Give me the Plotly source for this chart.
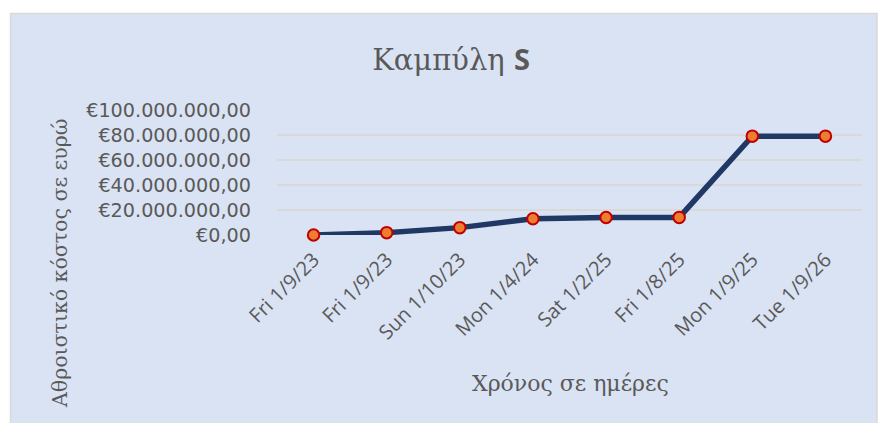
import plotly.graph_objects as go

# Data: cumulative cost per milestone date
dates = ["Fri 1/9/23", "Fri 1/9/23", "Sun 1/10/23", "Mon 1/4/24",
         "Sat 1/2/25", "Fri 1/8/25", "Mon 1/9/25", "Tue 1/9/26"]
cumulative_cost = [0, 1.9e6, 5.9e6, 13.0e6, 14.0e6, 14.1e6, 79.1e6, 79.1e6]
y_ticks = [0, 20e6, 40e6, 60e6, 80e6, 100e6]


def euro(v):
    # Greek-style currency: "." thousands, "," decimals
    s = f"{v:,.2f}".replace(",", "X").replace(".", ",").replace("X", ".")
    return "€" + s


y_ticktext = [euro(v) for v in y_ticks]
positions = list(range(len(dates)))

W, H = 878, 423
L, R, T, B = 277, 16, 110, 188
pw, ph = W - L - R, H - T - B


def px_x(x):
    return (x - L) / pw


def px_y(y):
    return (H - B - y) / ph


GREY = "#595959"
SERIF = "DejaVu Serif"
SANS = "Open Sans"

fig = go.Figure()
fig.add_trace(go.Scatter(
    x=positions, y=cumulative_cost, mode="lines+markers",
    line=dict(color="#203864", width=5.5),
    marker=dict(size=11.5, color="#ED7D31", line=dict(color="#C00000", width=2)),
    cliponaxis=False, showlegend=False, hoverinfo="skip",
))

fig.update_layout(
    width=W, height=H,
    margin=dict(l=L, r=R, t=T, b=B, autoexpand=False),
    paper_bgcolor="white", plot_bgcolor="rgba(0,0,0,0)",
    title=dict(
        text="Καμπύλη <span style='font-family:Open Sans'><b>S</b></span>",
        font=dict(family=SERIF, size=29, color=GREY),
        xref="container", yref="container",
        x=451 / W, y=1 - 60 / H, xanchor="center", yanchor="middle",
    ),
    xaxis=dict(
        range=[-0.5, len(dates) - 0.5],
        tickvals=positions, ticktext=dates, tickangle=-45,
        showgrid=False, zeroline=False, showline=False,
        ticklabelstandoff=8,
        tickfont=dict(family=SANS, size=20, color=GREY),
    ),
    yaxis=dict(
        range=[0, 100e6], tickvals=y_ticks, ticktext=y_ticktext,
        showgrid=True, gridcolor="#D9D9D9", gridwidth=1.5,
        zeroline=False, showline=False,
        ticklabelstandoff=25,
        tickfont=dict(family="DejaVu Sans", size=19.2, color=GREY),
    ),
    shapes=[dict(
        type="rect", xref="paper", yref="paper", layer="below",
        x0=px_x(10.5), x1=px_x(877), y0=px_y(430), y1=px_y(13.5),
        fillcolor="#DAE3F3", line=dict(color="#D9D9D9", width=1.5),
    )],
    annotations=[
        dict(text="Αθροιστικό κόστος σε ευρώ", textangle=-90,
             xref="paper", yref="paper", x=px_x(60), y=px_y(264),
             xanchor="center", yanchor="middle", showarrow=False,
             font=dict(family=SERIF, size=20.5, color=GREY)),
        dict(text="Χρόνος σε ημέρες",
             xref="paper", yref="paper", x=px_x(570), y=px_y(383),
             xanchor="center", yanchor="middle", showarrow=False,
             font=dict(family=SERIF, size=22, color=GREY)),
    ],
)

fig.write_html("out.html")
